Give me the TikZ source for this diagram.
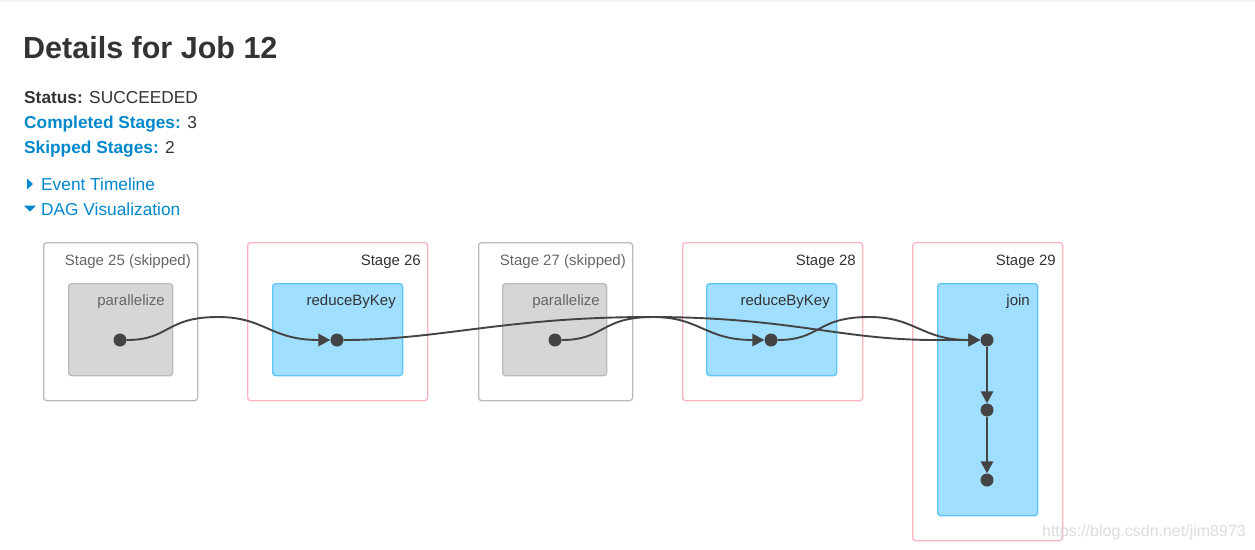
\documentclass[tikz,border=0pt]{standalone}
\usepackage{fontspec}
\setmainfont{Liberation Sans}
\usetikzlibrary{arrows.meta}
\definecolor{txt}{HTML}{333333}
\definecolor{link}{HTML}{0088CC}
\definecolor{skipb}{HTML}{BBBBBB}
\definecolor{skipf}{HTML}{D6D6D6}
\definecolor{skipt}{HTML}{666666}
\definecolor{pinkb}{HTML}{FFB3C0}
\definecolor{bluef}{HTML}{A0DFFF}
\definecolor{blueb}{HTML}{5CC6FA}
\definecolor{dotc}{HTML}{444444}
\definecolor{wm}{HTML}{DDDDDD}
\tikzset{
  x=1pt, y=-1pt,
  box/.style={rounded corners=3pt, line width=1.3pt, inner sep=0pt, anchor=north west},
  skipstage/.style={box, draw=skipb, fill=white},
  okstage/.style={box, draw=pinkb, fill=white},
  skipop/.style={box, draw=skipb, fill=skipf},
  okop/.style={box, draw=blueb, fill=bluef},
  lbl/.style={anchor=base east, inner sep=0pt, font=\fontsize{15}{18}\selectfont},
  dot/.style={circle, fill=dotc, inner sep=0pt, minimum size=13pt},
  edge/.style={draw=dotc, line width=1.9pt, -{Triangle[length=12pt,width=12.5pt]}},
  info/.style={anchor=base west, inner sep=0pt, font=\fontsize{17.3}{20}\selectfont},
}
\begin{document}
\begin{tikzpicture}
\useasboundingbox (0,0) rectangle (1255,549);
\fill[white] (0,0) rectangle (1255,549);
\fill[black!4] (0,0) rectangle (1255,2);
% header
\node[anchor=base west, inner sep=0pt, text=txt, font=\fontsize{30.5}{36}\selectfont\bfseries] (title) at (23,58) {Details for Job 12};
\node[info, text=txt] (status) at (24,103) {\textbf{Status:} SUCCEEDED};
\node[info, text=txt] (completed) at (24,128) {\textcolor{link}{\textbf{Completed Stages:}} 3};
\node[info, text=txt] (skipped) at (24,153) {\textcolor{link}{\textbf{Skipped Stages:}} 2};
\fill[link] (27,178.5) -- (33,184) -- (27,189.5) -- cycle;
\node[info, text=link] (timeline) at (41,190) {Event Timeline};
\fill[link] (24,205.5) -- (36,205.5) -- (30,211.5) -- cycle;
\node[info, text=link] (dagviz) at (41,215) {DAG Visualization};
% stages
\node[skipstage, minimum width=154pt, minimum height=158pt] (s25) at (43,242) {};
\node[okstage, minimum width=180pt, minimum height=158pt] (s26) at (247,242) {};
\node[skipstage, minimum width=154pt, minimum height=158pt] (s27) at (478,242) {};
\node[okstage, minimum width=180pt, minimum height=158pt] (s28) at (682,242) {};
\node[okstage, minimum width=150pt, minimum height=298pt] (s29) at (912,242) {};
\node[lbl, text=skipt] (l25) at (191,265) {Stage 25 (skipped)};
\node[lbl, text=txt] (l26) at (421,265) {Stage 26};
\node[lbl, text=skipt] (l27) at (626,265) {Stage 27 (skipped)};
\node[lbl, text=txt] (l28) at (856,265) {Stage 28};
\node[lbl, text=txt] (l29) at (1056,265) {Stage 29};
% operations
\node[skipop, minimum width=104pt, minimum height=92pt] (o25) at (68,283) {};
\node[okop, minimum width=130pt, minimum height=92pt] (o26) at (272,283) {};
\node[skipop, minimum width=104pt, minimum height=92pt] (o27) at (502,283) {};
\node[okop, minimum width=130pt, minimum height=92pt] (o28) at (706,283) {};
\node[okop, minimum width=100pt, minimum height=232pt] (o29) at (937,283) {};
\node[lbl, text=skipt] (p25) at (165,305) {parallelize};
\node[lbl, text=txt] (p26) at (396,305) {reduceByKey};
\node[lbl, text=skipt] (p27) at (600,305) {parallelize};
\node[lbl, text=txt] (p28) at (830,305) {reduceByKey};
\node[lbl, text=txt] (p29) at (1030,305) {join};
% dots
\node[dot] (d25) at (120,340) {};
\node[dot] (d26) at (337,340) {};
\node[dot] (d27) at (555,340) {};
\node[dot] (d28) at (771,340) {};
\node[dot] (d29a) at (987,340) {};
\node[dot] (d29b) at (987,410) {};
\node[dot] (d29c) at (987,480) {};
% edges
\draw[edge] (d25) .. controls (170,340) and (165,317) .. (218,317) .. controls (265,317) and (270,340) .. (d26);
\draw[edge] (d26) .. controls (440,340) and (505,317) .. (650,317) .. controls (790,317) and (840,340) .. (935,340) -- (d29a);
\draw[edge] (d27) .. controls (605,340) and (600,317) .. (653,317) .. controls (700,317) and (705,340) .. (d28);
\draw[edge] (d28) .. controls (821,340) and (816,317) .. (869,317) .. controls (916,317) and (921,340) .. (d29a);
\draw[edge] (d29a) -- (d29b);
\draw[edge] (d29b) -- (d29c);
% watermark
\node[anchor=base east, inner sep=0pt, text=wm, font=\fontsize{16}{19}\selectfont] (wmark) at (1246,536) {https://blog.csdn.net/jim8973};
\end{tikzpicture}
\end{document}
